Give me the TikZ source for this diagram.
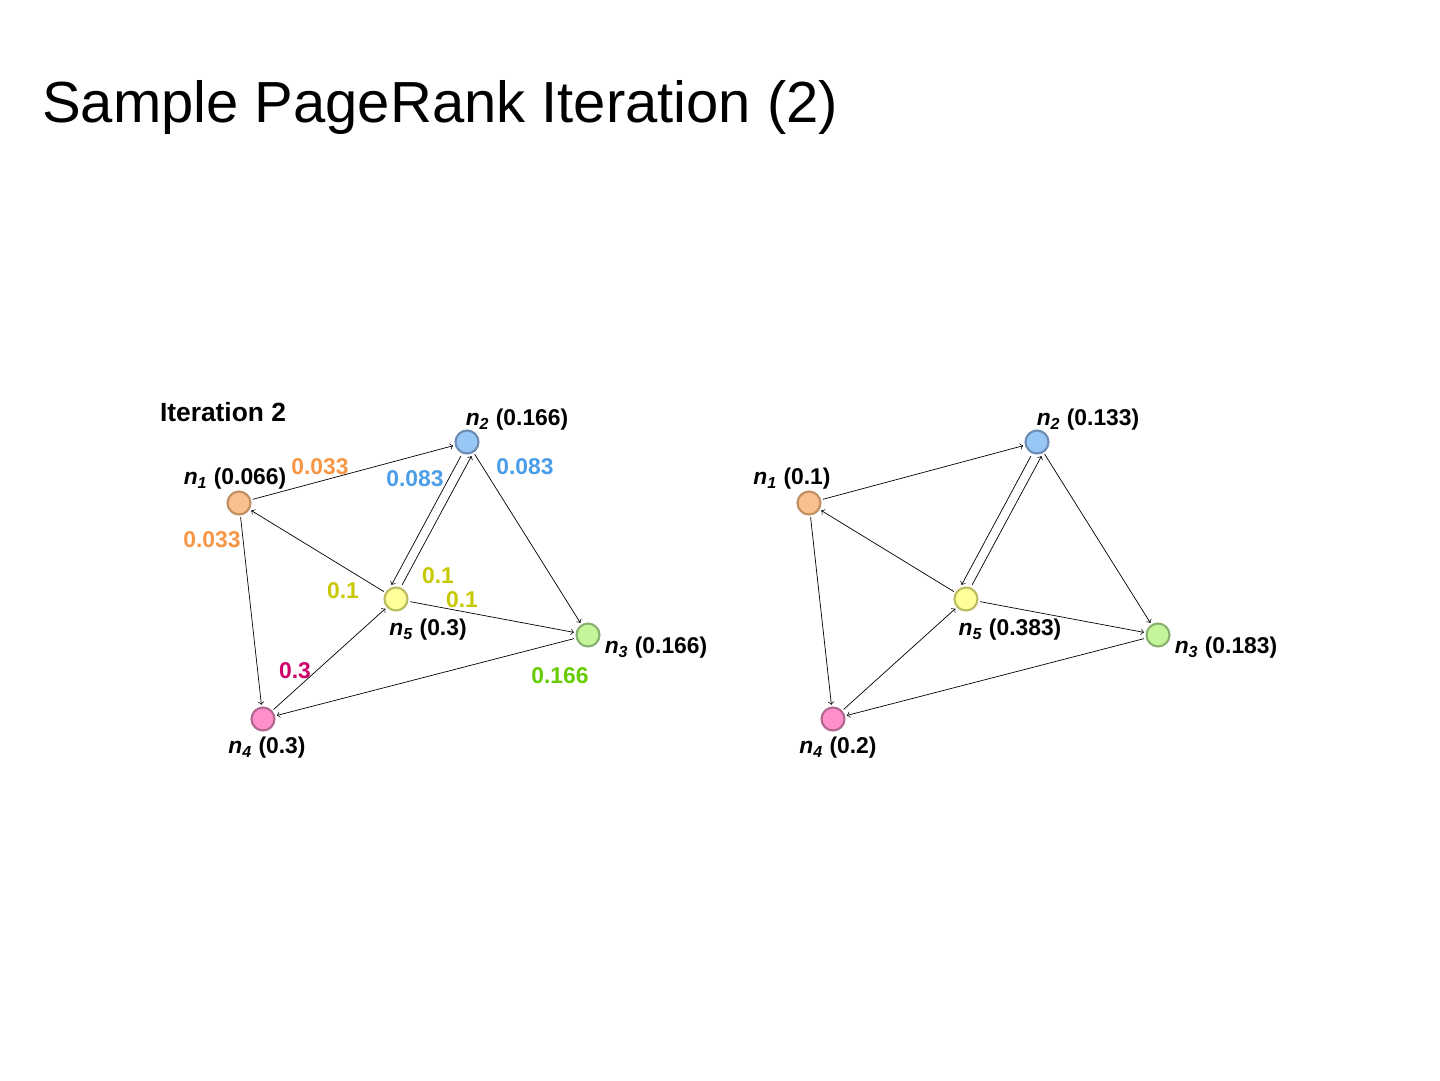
\documentclass[tikz,border=0pt]{standalone}
\usepackage{fontspec}
\setmainfont{Liberation Sans}
\usetikzlibrary{arrows}
\definecolor{nOne}{HTML}{F9C08F}\definecolor{nOneD}{HTML}{C09060}
\definecolor{nTwo}{HTML}{99C7F5}\definecolor{nTwoD}{HTML}{6B8DB5}
\definecolor{nThree}{HTML}{C5F59A}\definecolor{nThreeD}{HTML}{8AB070}
\definecolor{nFour}{HTML}{FF8FC9}\definecolor{nFourD}{HTML}{B0668F}
\definecolor{nFive}{HTML}{FFFF99}\definecolor{nFiveD}{HTML}{BBBB60}
\definecolor{wOrange}{HTML}{F79646}\definecolor{wBlue}{HTML}{4A9EE8}
\definecolor{wOlive}{HTML}{C8C800}\definecolor{wMag}{HTML}{CC0066}
\definecolor{wGreen}{HTML}{66CC00}
\tikzstyle{vertex}=[circle, minimum size=0.46cm, inner sep=0pt, line width=1.2pt]
\tikzstyle{link}=[thin, black, ->, >=to, shorten >=1pt, shorten <=1pt]
\tikzstyle{nlabel}=[font=\fontsize{13}{15}\selectfont\bfseries]
\tikzstyle{wlabel}=[font=\fontsize{13}{15}\selectfont\bfseries]
\newcommand{\nn}[1]{\textit{n}\textsubscript{\textit{#1}}}
\begin{document}
\begin{tikzpicture}[x=0.02cm,y=-0.02cm]
\useasboundingbox (0,0) rectangle (1440,1080);
\node (title) [anchor=base west, font=\fontsize{33}{38}\selectfont] at (36,122) {Sample PageRank Iteration (2)};
\node (iter) [font=\fontsize{15}{18}\selectfont\bfseries] at (223,412) {Iteration 2};
% both graphs
\foreach \g/\dx in {a/0,b/570}{
  \node (\g1) [vertex, fill=nOne, draw=nOneD] at (239+\dx,503) {};
  \node (\g2) [vertex, fill=nTwo, draw=nTwoD] at (467+\dx,442) {};
  \node (\g3) [vertex, fill=nThree, draw=nThreeD] at (588+\dx,635) {};
  \node (\g4) [vertex, fill=nFour, draw=nFourD] at (263+\dx,719) {};
  \node (\g5) [vertex, fill=nFive, draw=nFiveD] at (396+\dx,599) {};
  \draw [link] (\g1)--(\g2);
  \draw [link] (\g1)--(\g4);
  \draw [link] ([xshift=-3pt]\g2.south)--([xshift=-3pt]\g5.north);
  \draw [link] ([xshift=3pt]\g5.north)--([xshift=3pt]\g2.south);
  \draw [link] (\g2)--(\g3);
  \draw [link] (\g5)--(\g1);
  \draw [link] (\g5)--(\g3);
  \draw [link] (\g4)--(\g5);
  \draw [link] (\g3)--(\g4);
}
% left labels
\node (la2) [nlabel] at (517,420) {\nn{2} (0.166)};
\node (la1) [nlabel] at (235,479) {\nn{1} (0.066)};
\node (la5) [nlabel] at (428,630) {\nn{5} (0.3)};
\node (la3) [nlabel] at (656,648) {\nn{3} (0.166)};
\node (la4) [nlabel] at (267,748) {\nn{4} (0.3)};
\node (w12) [wlabel, wOrange] at (320,467) {0.033};
\node (w14) [wlabel, wOrange] at (212,540) {0.033};
\node (w25) [wlabel, wBlue] at (415,479) {0.083};
\node (w23) [wlabel, wBlue] at (525,467) {0.083};
\node (w52) [wlabel, wOlive] at (438,576) {0.1};
\node (w51) [wlabel, wOlive] at (343,591) {0.1};
\node (w53) [wlabel, wOlive] at (462,600) {0.1};
\node (w45) [wlabel, wMag] at (295,671) {0.3};
\node (w34) [wlabel, wGreen] at (560,676) {0.166};
% right labels
\node (lb2) [nlabel] at (1088,420) {\nn{2} (0.133)};
\node (lb1) [nlabel] at (792,479) {\nn{1} (0.1)};
\node (lb5) [nlabel] at (1010,630) {\nn{5} (0.383)};
\node (lb3) [nlabel] at (1226,648) {\nn{3} (0.183)};
\node (lb4) [nlabel] at (838,748) {\nn{4} (0.2)};
\end{tikzpicture}
\end{document}
